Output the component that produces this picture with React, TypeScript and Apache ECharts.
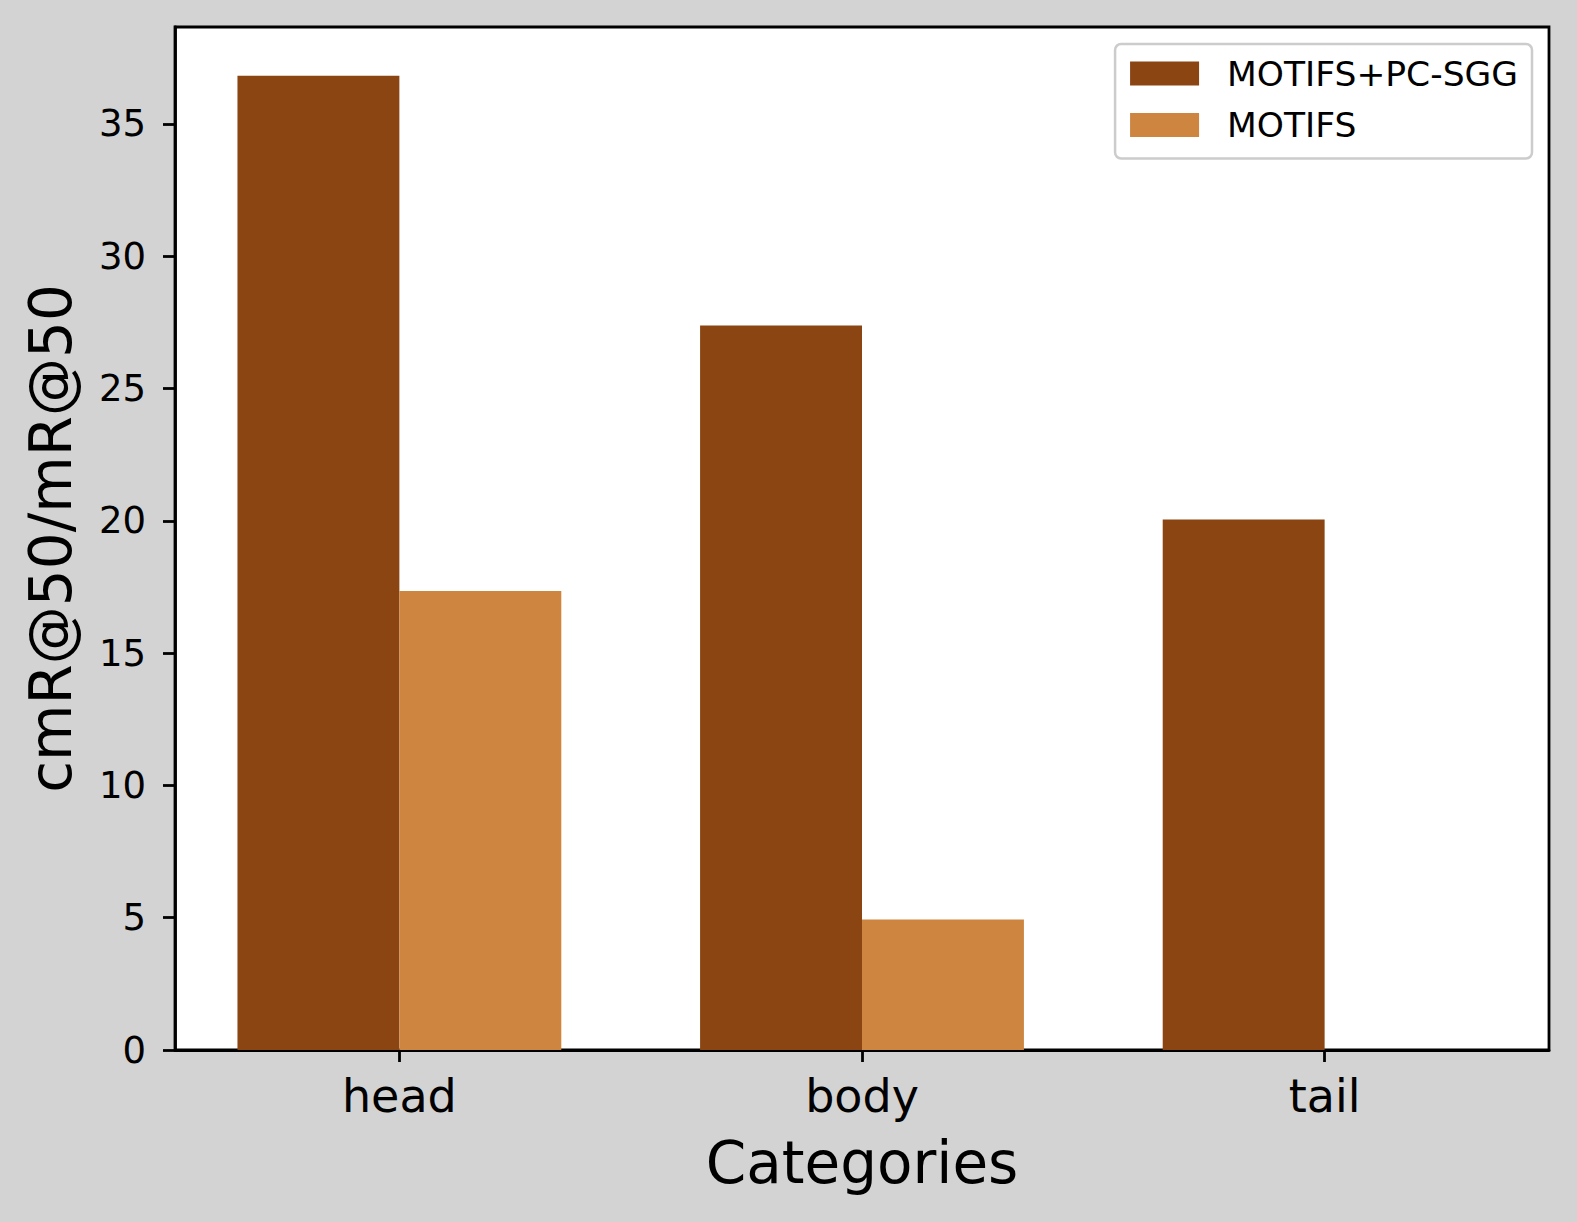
import React, { useEffect, useRef } from "react";
import * as echarts from "echarts";

const categories = ["head", "body", "tail"];
const seriesNames = ["MOTIFS+PC-SGG", "MOTIFS"];
const pcSggValues = [36.82, 27.38, 20.05];
const motifsValues = [17.35, 4.93, 0];
const yTicks = [0, 5, 10, 15, 20, 25, 30, 35];
const colors = ["#8B4513", "#CD853F"];

const FONT = "DejaVu Sans";

export default function App() {
  const ref = useRef<HTMLDivElement>(null);
  useEffect(() => {
    if (!ref.current) return;
    const chart = echarts.init(ref.current, null, { renderer: "svg" });
    const xIdx = categories.map((_, i) => i);
    chart.setOption({
      animation: false,
      backgroundColor: "#d3d3d3",
      grid: {
        left: 175,
        top: 27,
        right: 28,
        bottom: 172,
        show: true,
        backgroundColor: "#ffffff",
        borderColor: "#000000",
        borderWidth: 2.8,
      },
      legend: {
        data: seriesNames,
        orient: "vertical",
        right: 45,
        top: 44,
        itemWidth: 69,
        itemHeight: 24,
        itemGap: 16.5,
        padding: [12, 14, 16, 15],
        backgroundColor: "#ffffff",
        borderColor: "#cccccc",
        borderWidth: 2.5,
        borderRadius: 6,
        icon: "rect",
        textStyle: {
          fontFamily: FONT,
          fontSize: 34.5,
          color: "#000",
          padding: [0, 0, 0, 23],
        },
      },
      xAxis: {
        type: "value",
        min: -0.485,
        max: 2.485,
        name: "Categories",
        nameLocation: "middle",
        nameGap: 84,
        nameTextStyle: { fontFamily: FONT, fontSize: 58, color: "#000" },
        axisLine: { show: true, onZero: false, lineStyle: { color: "#000", width: 2.8 } },
        axisTick: {
          show: true,
          length: 12,
          lineStyle: { color: "#000", width: 2.8 },
          customValues: xIdx,
        },
        axisLabel: {
          customValues: xIdx,
          formatter: (v: number) => categories[Math.round(v)] ?? "",
          fontFamily: FONT,
          fontSize: 46,
          color: "#000",
          margin: 23,
        },
        splitLine: { show: false },
      },
      yAxis: {
        type: "value",
        min: 0,
        max: 38.66,
        name: "cmR@50/mR@50",
        nameLocation: "middle",
        nameGap: 95,
        nameRotate: 90,
        nameTextStyle: { fontFamily: FONT, fontSize: 58, color: "#000" },
        axisLine: { show: true, onZero: false, lineStyle: { color: "#000", width: 2.8 } },
        axisTick: {
          show: true,
          length: 12,
          lineStyle: { color: "#000", width: 2.8 },
          customValues: yTicks,
        },
        axisLabel: {
          customValues: yTicks,
          fontFamily: FONT,
          fontSize: 37,
          color: "#000",
          margin: 29,
        },
        splitLine: { show: false },
      },
      series: [
        {
          name: seriesNames[0],
          type: "bar",
          data: categories.map((_, i) => [i, pcSggValues[i]]),
          barWidth: "35%",
          barGap: "0%",
          itemStyle: { color: colors[0] },
        },
        {
          name: seriesNames[1],
          type: "bar",
          data: categories.map((_, i) => [i, motifsValues[i]]),
          barWidth: "35%",
          barGap: "0%",
          itemStyle: { color: colors[1] },
        },
      ],
    });
    return () => chart.dispose();
  }, []);
  return (
    <div
      ref={ref}
      style={{ position: "fixed", left: 0, top: 0, width: 1577, height: 1222 }}
    />
  );
}
